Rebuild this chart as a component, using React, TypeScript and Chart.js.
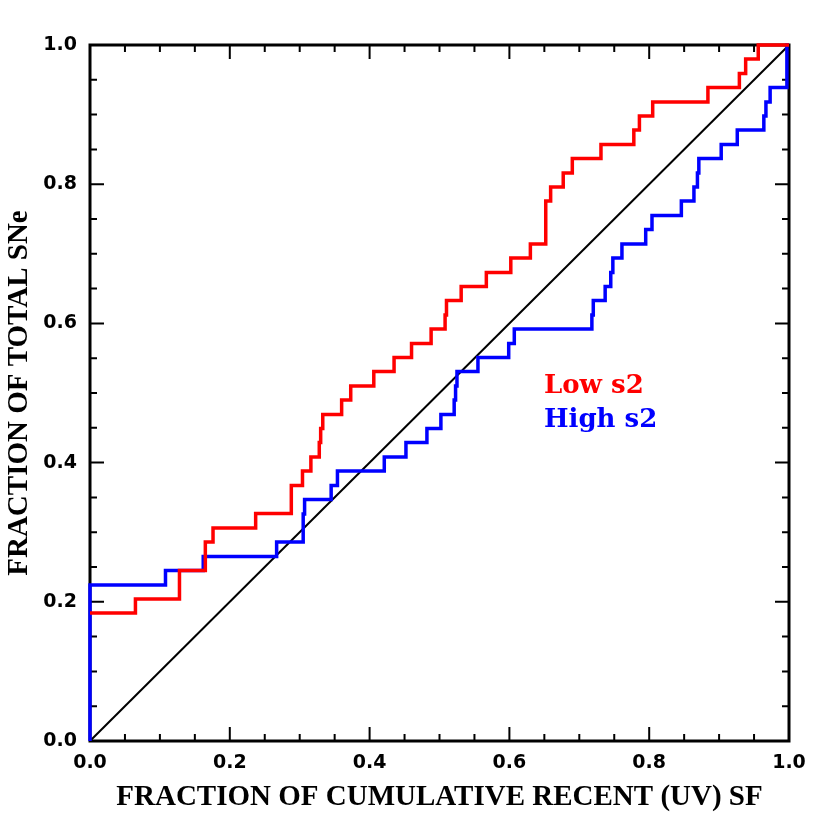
import { useEffect, useRef } from 'react';
import { Chart, registerables } from 'chart.js';

Chart.register(...registerables);

// Low s2 cumulative curve (x at each step, level after the step)
const redX = [0, 0.065, 0.128, 0.165, 0.176, 0.237, 0.288, 0.304, 0.316, 0.328, 0.330, 0.333, 0.360, 0.373, 0.406, 0.435, 0.460, 0.488, 0.508, 0.510, 0.531, 0.567, 0.602, 0.630, 0.652, 0.659, 0.677, 0.690, 0.731, 0.778, 0.786, 0.805, 0.884, 0.929, 0.938, 0.956, 1.0];
const redY = [0.184, 0.204, 0.245, 0.286, 0.306, 0.327, 0.367, 0.388, 0.408, 0.429, 0.449, 0.469, 0.490, 0.510, 0.531, 0.551, 0.571, 0.592, 0.612, 0.633, 0.653, 0.673, 0.694, 0.714, 0.776, 0.796, 0.816, 0.837, 0.857, 0.878, 0.898, 0.918, 0.939, 0.959, 0.980, 1.0, 1.0];

// High s2 cumulative curve
const blueX = [0, 0, 0.108, 0.162, 0.267, 0.305, 0.307, 0.345, 0.354, 0.421, 0.452, 0.482, 0.502, 0.521, 0.523, 0.525, 0.555, 0.599, 0.607, 0.718, 0.720, 0.737, 0.745, 0.748, 0.761, 0.795, 0.804, 0.846, 0.864, 0.869, 0.871, 0.903, 0.926, 0.964, 0.967, 0.973, 0.997, 1.0];
const blueY = [0, 0.224, 0.245, 0.265, 0.286, 0.326, 0.347, 0.367, 0.388, 0.408, 0.429, 0.449, 0.469, 0.490, 0.510, 0.531, 0.551, 0.571, 0.592, 0.612, 0.633, 0.653, 0.673, 0.694, 0.714, 0.735, 0.755, 0.776, 0.796, 0.816, 0.837, 0.857, 0.878, 0.898, 0.918, 0.939, 1.0, 1.0];

// one-to-one reference line
const diagX = [0, 1];
const diagY = [0, 1];

const axisMin = 0;
const axisMax = 1;
const majorStep = 0.2;
const minorStep = 0.05;

const legendLabels = ['Low s2', 'High s2'];
const legendColors = ['#ff0000', '#0000ff'];
const xTitle = 'FRACTION OF CUMULATIVE RECENT (UV) SF';
const yTitle = 'FRACTION OF TOTAL SNe';

const toPoints = (xs: number[], ys: number[]) => xs.map((x, i) => ({ x, y: ys[i] }));

const framePlugin = {
  id: 'idlFrame',
  beforeDatasetsDraw(chart: any) {
    const { ctx, chartArea, scales } = chart;
    const { left, right, top, bottom } = chartArea;
    const xs = scales.x;
    const ys = scales.y;
    ctx.save();
    ctx.strokeStyle = '#000';
    ctx.lineWidth = 2;
    const n = Math.round((axisMax - axisMin) / minorStep);
    const perMajor = Math.round(majorStep / minorStep);
    for (let i = 0; i <= n; i++) {
      const v = axisMin + i * minorStep;
      const len = i % perMajor === 0 ? 14 : 7;
      const px = xs.getPixelForValue(v);
      const py = ys.getPixelForValue(v);
      ctx.beginPath();
      ctx.moveTo(px, bottom);
      ctx.lineTo(px, bottom - len);
      ctx.moveTo(px, top);
      ctx.lineTo(px, top + len);
      ctx.moveTo(left, py);
      ctx.lineTo(left + len, py);
      ctx.moveTo(right, py);
      ctx.lineTo(right - len, py);
      ctx.stroke();
    }
    ctx.lineWidth = 3;
    ctx.strokeRect(left, top, right - left, bottom - top);
    ctx.restore();
  },
  afterDatasetsDraw(chart: any) {
    const { ctx, chartArea } = chart;
    const { left, right, top, bottom } = chartArea;
    const w = right - left;
    const h = bottom - top;
    ctx.save();
    ctx.font = 'bold 26px "DejaVu Serif", serif';
    ctx.textAlign = 'left';
    ctx.textBaseline = 'alphabetic';
    legendLabels.forEach((lab, i) => {
      ctx.fillStyle = legendColors[i];
      ctx.fillText(lab, left + w * 0.6495, top + h * (0.5 + i * 0.049));
    });
    ctx.restore();
  },
};

export default function App() {
  const ref = useRef<HTMLCanvasElement | null>(null);
  useEffect(() => {
    document.body.style.margin = '0';
    const canvas = ref.current;
    if (!canvas) return;
    const tickFont = { family: '"DejaVu Sans", sans-serif', size: 19, weight: 'bold' as const };
    const titleFont = { family: '"Liberation Serif", serif', size: 29, weight: 'bold' as const };
    const chart = new Chart(canvas, {
      type: 'line',
      data: {
        datasets: [
          {
            label: legendLabels[0],
            data: toPoints(redX, redY),
            borderColor: legendColors[0],
            borderWidth: 3.5,
            stepped: 'before',
            pointRadius: 0,
            fill: false,
            clip: false,
          },
          {
            label: legendLabels[1],
            data: toPoints(blueX, blueY),
            borderColor: legendColors[1],
            borderWidth: 3.5,
            stepped: 'before',
            pointRadius: 0,
            fill: false,
            clip: false,
          },
          {
            label: 'one-to-one',
            data: toPoints(diagX, diagY),
            borderColor: '#000',
            borderWidth: 2,
            pointRadius: 0,
            fill: false,
          },
        ],
      },
      options: {
        animation: false,
        responsive: false,
        devicePixelRatio: 1,
        layout: { padding: { top: 45, right: 41, left: 0, bottom: 0 } },
        plugins: { legend: { display: false }, tooltip: { enabled: false } },
        scales: {
          x: {
            type: 'linear',
            min: axisMin,
            max: axisMax,
            grid: { display: false },
            border: { display: false },
            ticks: {
              stepSize: majorStep,
              autoSkip: false,
              maxRotation: 0,
              padding: 3,
              color: '#000',
              font: tickFont,
              callback: (v: any) => Number(v).toFixed(1),
            },
            title: { display: true, text: xTitle, color: '#000', font: titleFont, padding: { top: 0, bottom: 15 } },
            afterFit: (s: any) => { s.height = 89; },
          },
          y: {
            type: 'linear',
            min: axisMin,
            max: axisMax,
            grid: { display: false },
            border: { display: false },
            ticks: {
              stepSize: majorStep,
              autoSkip: false,
              padding: 5,
              color: '#000',
              font: tickFont,
              callback: (v: any) => Number(v).toFixed(1),
            },
            title: { display: true, text: yTitle, color: '#000', font: titleFont, padding: { top: 2, bottom: 0 } },
            afterFit: (s: any) => { s.width = 90; },
          },
        },
      },
      plugins: [framePlugin],
    });
    return () => chart.destroy();
  }, []);
  return <canvas ref={ref} width={830} height={830} style={{ display: 'block' }} />;
}
